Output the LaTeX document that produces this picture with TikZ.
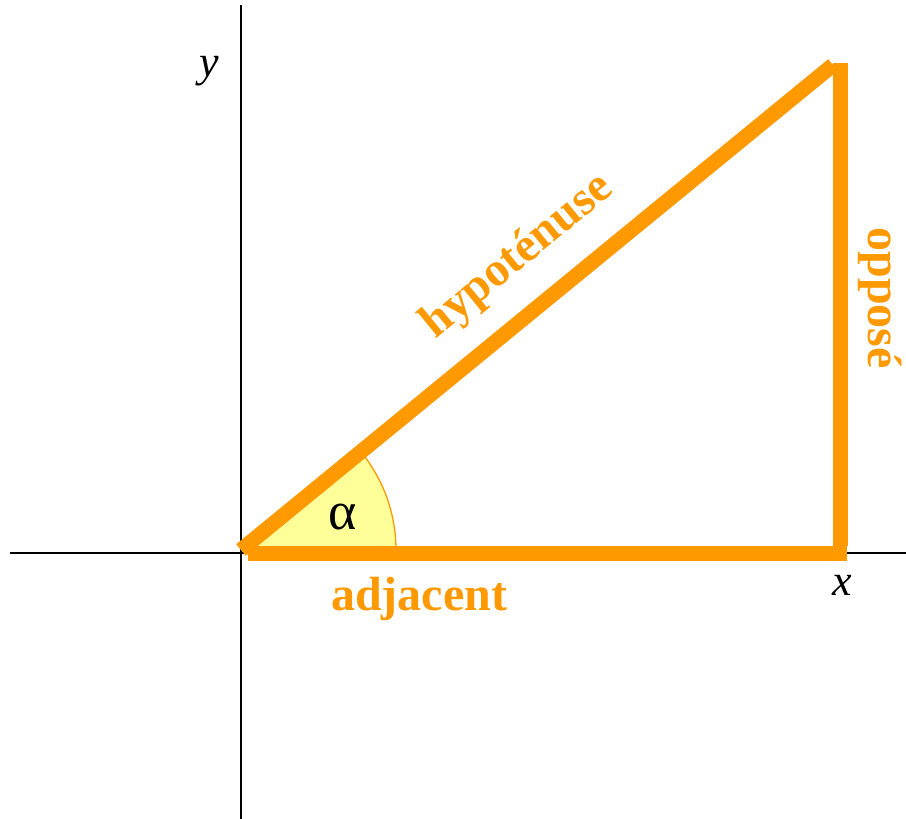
\documentclass[tikz,border=0pt]{standalone}
\usepackage{fontspec}
\setmainfont{Liberation Serif}
\definecolor{tri}{HTML}{FF9900}
\definecolor{fillyel}{HTML}{FFFF99}
\begin{document}
\begin{tikzpicture}[x=1pt,y=-1pt,
  axis/.style={line width=1.6pt,black},
  side/.style={line width=15pt,tri,line cap=butt},
  lbl/.style={text=tri,font=\fontsize{48}{52}\selectfont\bfseries,inner sep=0pt},
  axlbl/.style={font=\fontsize{44}{48}\selectfont\itshape,inner sep=0pt}]
\useasboundingbox (0,0) rectangle (906,819);
% axes
\coordinate (xl) at (10,553);
\coordinate (xr) at (906,553);
\coordinate (yt) at (241,5);
\coordinate (yb) at (241,819);
\draw[axis] (xl) -- (xr);
\draw[axis] (yt) -- (yb);
% angle
\coordinate (O) at (241,550);
\fill[fillyel] (O) -- ++(0:155) arc[start angle=0,end angle=-39.3,radius=155] -- cycle;
\draw[tri,line width=1.3pt] (O) ++(0:155) arc[start angle=0,end angle=-39.3,radius=155];
% triangle
\coordinate (A) at (248,553);
\coordinate (B) at (847,553);
\coordinate (C) at (840,546);
\coordinate (D) at (840,63);
\coordinate (H1) at (241,550);
\coordinate (H2) at (833,65);
\draw[side] (A) -- (B);
\draw[side] (C) -- (D);
\draw[side] (H1) -- (H2);
% labels
\node[font=\fontsize{54}{58}\selectfont,inner sep=0pt] (alpha) at (343,517) {α};
\node[lbl,anchor=base] (adj) at (419,610) {adjacent};
\node[lbl,rotate=39.3] (hyp) at (518,257) {hypoténuse};
\node[lbl,rotate=-90] (opp) at (880,298) {opposé};
\node[axlbl] (xlab) at (842,585) {x};
\node[axlbl] (ylab) at (209,71) {y};
\end{tikzpicture}
\end{document}
